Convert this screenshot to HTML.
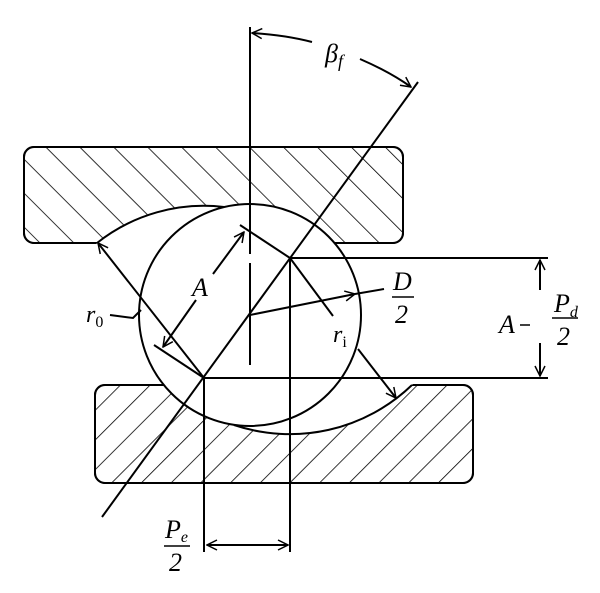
<!DOCTYPE html>
<html><head><style>body{margin:0;background:#fff}svg{display:block}text{font-family:"Liberation Serif",serif;font-style:italic;fill:#000}</style></head><body>
<svg width="600" height="593" viewBox="0 0 600 593" xmlns="http://www.w3.org/2000/svg">
<defs>
<pattern id="h1" width="24" height="24" patternUnits="userSpaceOnUse" patternTransform="rotate(-45)"><line x1="0" y1="0" x2="0" y2="24" stroke="#000" stroke-width="1.6"/></pattern>
<pattern id="h2" width="21" height="21" patternUnits="userSpaceOnUse" patternTransform="rotate(45)"><line x1="0" y1="0" x2="0" y2="21" stroke="#000" stroke-width="1.6"/></pattern>
<mask id="m1"><rect width="600" height="593" fill="#fff"/><circle cx="204" cy="378" r="172" fill="#000"/><circle cx="250" cy="315" r="111" fill="#000"/></mask>
<mask id="m2"><rect width="600" height="593" fill="#fff"/><circle cx="290" cy="258" r="176" fill="#000"/><circle cx="250" cy="315" r="111" fill="#000"/></mask>
<marker id="ar" viewBox="0 0 12 12" refX="11" refY="6" markerWidth="12" markerHeight="12" markerUnits="userSpaceOnUse" orient="auto-start-reverse"><path d="M1,1 L11,6 L1,11" fill="none" stroke="#000" stroke-width="1.5"/></marker>
</defs>
<g stroke="#000" stroke-width="2" fill="none">
<g mask="url(#m1)"><rect x="24" y="147" width="379" height="96" rx="10" fill="url(#h1)"/><rect x="24" y="147" width="379" height="96" rx="10"/></g>
<g mask="url(#m2)"><rect x="95" y="385" width="378" height="98" rx="10" fill="url(#h2)"/><rect x="95" y="385" width="378" height="98" rx="10"/></g>
<path d="M97,243 A172,172 0 0 1 224,207"/>
<path d="M234,425 A176,176 0 0 0 412,385"/>
<circle cx="250" cy="315" r="111"/>
<line x1="250" y1="27" x2="250" y2="254"/><line x1="250" y1="263" x2="250" y2="365"/>
<line x1="102" y1="517" x2="418" y2="82"/>
<line x1="290" y1="258" x2="290" y2="552"/><line x1="204" y1="378" x2="204" y2="552"/>
<line x1="290" y1="258" x2="548" y2="258"/><line x1="204" y1="378" x2="548" y2="378"/>
<line x1="240" y1="225" x2="290" y2="258"/><line x1="154" y1="345" x2="204" y2="378"/>
<line x1="213" y1="274" x2="244" y2="232" marker-end="url(#ar)"/>
<line x1="196" y1="300" x2="163" y2="347" marker-end="url(#ar)"/>
<line x1="204" y1="378" x2="98" y2="243" marker-end="url(#ar)"/>
<line x1="290" y1="258" x2="333" y2="316"/>
<line x1="358" y1="349" x2="396" y2="398" marker-end="url(#ar)"/>
<line x1="250" y1="315" x2="355" y2="294" marker-end="url(#ar)"/><line x1="355" y1="294" x2="384" y2="289"/>
<path d="M110,315 L133,318 L141,310"/>
<line x1="540" y1="290" x2="540" y2="260" marker-end="url(#ar)"/>
<line x1="540" y1="343" x2="540" y2="376" marker-end="url(#ar)"/>
<line x1="207" y1="545" x2="288" y2="545" marker-start="url(#ar)" marker-end="url(#ar)"/>
<path d="M312,42 Q285,35 252,33" marker-end="url(#ar)"/>
<path d="M360,59 Q390,72 411,87" marker-end="url(#ar)"/>
</g>
<text x="325" y="62" font-size="26">β<tspan font-size="18" dy="5">f</tspan></text>
<text x="192" y="296" font-size="26">A</text>
<text x="86" y="322" font-size="24">r<tspan font-size="16" dy="5" font-style="normal">0</tspan></text>
<text x="333" y="342" font-size="24">r<tspan font-size="16" dy="5" font-style="normal">i</tspan></text>
<text x="393" y="290" font-size="26">D</text><line x1="392" y1="297" x2="414" y2="297" stroke="#000" stroke-width="1.5"/><text x="395" y="323" font-size="26" font-style="normal">2</text>
<text x="499" y="333" font-size="26">A</text><line x1="520" y1="325" x2="530" y2="325" stroke="#000" stroke-width="1.5"/>
<text x="554" y="312" font-size="26">P<tspan font-size="16" dy="5">d</tspan></text><line x1="552" y1="318" x2="578" y2="318" stroke="#000" stroke-width="1.5"/><text x="557" y="345" font-size="26" font-style="normal">2</text>
<text x="165" y="538" font-size="26">P<tspan font-size="16" dy="4">e</tspan></text><line x1="164" y1="546" x2="190" y2="546" stroke="#000" stroke-width="1.5"/><text x="169" y="571" font-size="26" font-style="normal">2</text>
</svg>
</body></html>
